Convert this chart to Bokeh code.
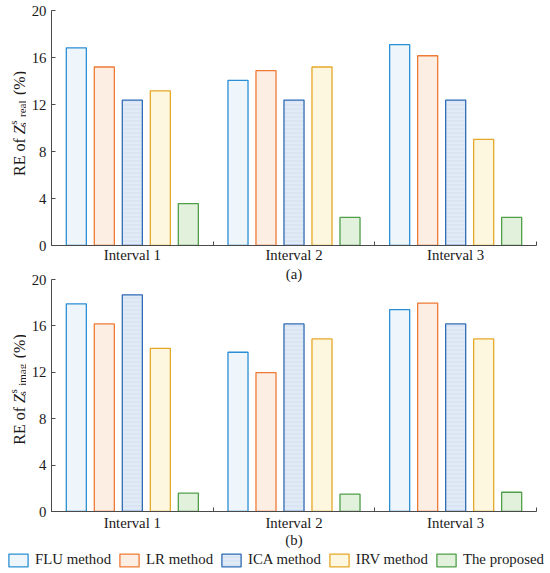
import numpy as np
from bokeh.plotting import figure
from bokeh.models import ColumnDataSource, Range1d, FixedTicker, Label, Legend, LegendItem, Title
from bokeh.layouts import column, row
from bokeh.embed import file_html
from bokeh.resources import INLINE

# ---------------- data ----------------
intervals = ["Interval 1", "Interval 2", "Interval 3"]
methods = ["FLU method", "LR method", "ICA method", "IRV method", "The proposed"]

real_flu = [16.82, 14.06, 17.10]
real_lr = [15.19, 14.88, 16.15]
real_ica = [12.38, 12.38, 12.38]
real_irv = [13.16, 15.19, 9.03]
real_prop = [3.57, 2.39, 2.39]

imag_flu = [17.90, 13.73, 17.41]
imag_lr = [16.17, 11.98, 17.97]
imag_ica = [18.68, 16.17, 16.17]
imag_irv = [14.06, 14.88, 14.88]
imag_prop = [1.58, 1.49, 1.66]

y_ticks = [0, 4, 8, 12, 16, 20]

# ---------------- style ----------------
line_colors = ["#2b8fd4", "#ef7a35", "#2f6cb5", "#e5a826", "#4e9f48"]
fill_colors = ["#eef5fb", "#fdeee3", "#dae5f4", "#fef7e0", "#e2f1dc"]
FONT = "Liberation Serif"
FS = "14.8px"
AXC = "#4a4a4a"
TXT = "#1a1a1a"
STEP = 0.3464   # dodge step in x units (category = 2 units)
BW = 0.248
W = 550
LW = 26          # width of the strip holding the y-axis title
LEFT = 51 - LW
RIGHT = 14

CH = {"R": .667, "E": .611, "o": .5, "f": .333, " ": .25, "s": .389, "_": .5,
      "r": .333, "e": .444, "a": .444, "l": .278, "i": .278, "m": .778, "g": .5,
      "(": .333, "%": .833, ")": .333}


def tw(t, size):
    return sum(CH.get(c, .5) for c in t) * size


def hatch_kw(m):
    if m == 2:
        return dict(hatch_pattern="horizontal_line", hatch_color="#e8eff9",
                    hatch_scale=4, hatch_weight=1)
    return {}


def ylabel_fig(height, top, bottom, yr, sub_text, center):
    q = figure(width=LW, height=height, x_range=Range1d(0, 1), y_range=yr,
               output_backend="svg", toolbar_location=None,
               x_axis_location=None, y_axis_location=None,
               min_border_left=0, min_border_right=0,
               min_border_top=top, min_border_bottom=bottom)
    q.outline_line_color = None
    q.grid.visible = False
    F, S = 16, 11
    base = 18.5
    parts_len = tw("RE of", F) + tw(" ", F) + 0.556 * F + tw(sub_text, S) + tw(" ", F) + tw("(%)", F)
    off = center - parts_len / 2
    common = dict(x_units="screen", y_units="data", y=y_ticks[0], angle=np.pi / 2,
                  text_align="left", text_baseline="alphabetic", text_color=TXT,
                  text_font=FONT)
    q.add_layout(Label(x=base, y_offset=off, text="RE of", text_font_size=f"{F}px", **common))
    off += tw("RE of", F) + tw(" ", F)
    q.add_layout(Label(x=base, y_offset=off, text="Z", text_font_size=f"{F}px",
                       text_font_style="italic", **common))
    off += 0.556 * F
    q.add_layout(Label(x=base - 6.5, y_offset=off + 0.5, text="s", text_font_size=f"{S}px", **common))
    q.add_layout(Label(x=base + 3.2, y_offset=off - 1.5, text=sub_text, text_font_size=f"{S}px", **common))
    off += tw(sub_text, S) + tw(" ", F)
    q.add_layout(Label(x=base, y_offset=off, text="(%)", text_font_size=f"{F}px", **common))
    return q


def make_fig(height, top_border, series, tick_standoff):
    p = figure(width=W - LW, height=height, x_range=Range1d(0, 2 * len(intervals)),
               y_range=Range1d(y_ticks[0], y_ticks[-1]),
               output_backend="svg", toolbar_location=None,
               min_border_left=LEFT, min_border_right=RIGHT,
               min_border_top=top_border, min_border_bottom=0)
    p.outline_line_color = None
    p.grid.visible = False

    renderers, sources = [], []
    for m, vals in enumerate(series):
        xs = [2 * i + 1 + (m - 2) * STEP for i in range(len(intervals))]
        src = ColumnDataSource(dict(x=xs, top=vals))
        r = p.vbar(x="x", top="top", bottom=0, width=BW, source=src,
                   fill_color=fill_colors[m], line_color=line_colors[m],
                   line_width=1.3, **hatch_kw(m))
        renderers.append(r)
        sources.append(src)

    xa = p.xaxis[0]
    xa.ticker = FixedTicker(ticks=[2 * i + 1 for i in range(len(intervals))],
                            minor_ticks=list(range(0, 2 * len(intervals) + 1, 2)))
    xa.major_label_overrides = {2 * i + 1: lab for i, lab in enumerate(intervals)}
    xa.major_tick_line_color = None
    xa.major_tick_in = 0
    xa.major_tick_out = 0
    xa.minor_tick_in = 4
    xa.minor_tick_out = 0
    xa.minor_tick_line_color = AXC
    xa.axis_line_color = AXC
    xa.major_label_standoff = tick_standoff
    xa.major_label_text_font = FONT
    xa.major_label_text_font_size = FS
    xa.major_label_text_color = TXT

    ya = p.yaxis[0]
    ya.ticker = FixedTicker(ticks=y_ticks)
    ya.major_tick_in = 4
    ya.major_tick_out = 0
    ya.minor_tick_line_color = None
    ya.axis_line_color = AXC
    ya.major_tick_line_color = AXC
    ya.major_label_standoff = 5
    ya.major_label_text_font = FONT
    ya.major_label_text_font_size = FS
    ya.major_label_text_color = TXT
    return p, renderers, sources


# panel (a)
p1, r1, s1 = make_fig(265, 10, [real_flu, real_lr, real_ica, real_irv, real_prop], 1)
l1 = ylabel_fig(265, 10, 20, p1.y_range, "s_real", 122)

# panel (b), with the "(a)" caption as its title
p2, r2, s2 = make_fig(285, 0, [imag_flu, imag_lr, imag_ica, imag_irv, imag_prop], 3)
p2.title = Title(text="(a)", align="center", standoff=-4, offset=0,
                 text_font=FONT, text_font_size=FS, text_font_style="normal",
                 text_color=TXT)
l2 = ylabel_fig(285, 13, 35, p2.y_range, "s_imag", 122)

xa2 = p2.xaxis[0]
xa2.axis_label = "(b)"
xa2.axis_label_standoff = -2
xa2.axis_label_text_font = FONT
xa2.axis_label_text_font_size = FS
xa2.axis_label_text_font_style = "normal"
xa2.axis_label_text_color = TXT

# legend strip (proxy renderers share the panel-(b) data but are hidden)
pl = figure(width=W, height=18, x_range=Range1d(0, 1), y_range=Range1d(0, 1),
            output_backend="svg", toolbar_location=None,
            x_axis_location=None, y_axis_location=None,
            min_border_left=0, min_border_right=0, min_border_top=0, min_border_bottom=0)
pl.outline_line_color = None
pl.grid.visible = False
lr = []
for m in range(len(methods)):
    lr.append(pl.vbar(x="x", top="top", width=BW, source=s2[m], visible=False,
                      fill_color=fill_colors[m], line_color=line_colors[m],
                      line_width=1.3, **hatch_kw(m)))
legend = Legend(items=[LegendItem(label=m, renderers=[r]) for m, r in zip(methods, lr)],
                orientation="horizontal", location=(6, 0),
                glyph_width=24, glyph_height=16, label_standoff=5, spacing=6,
                padding=0, margin=0, label_height=14,
                label_text_font=FONT, label_text_font_size=FS, label_text_color=TXT,
                border_line_color=None, background_fill_alpha=0,
                inactive_fill_alpha=0)
pl.add_layout(legend)

main = column(row(l1, p1, spacing=0), row(l2, p2, spacing=0), spacing=0)
open("out.html", "w").write(file_html((main, pl), INLINE))
